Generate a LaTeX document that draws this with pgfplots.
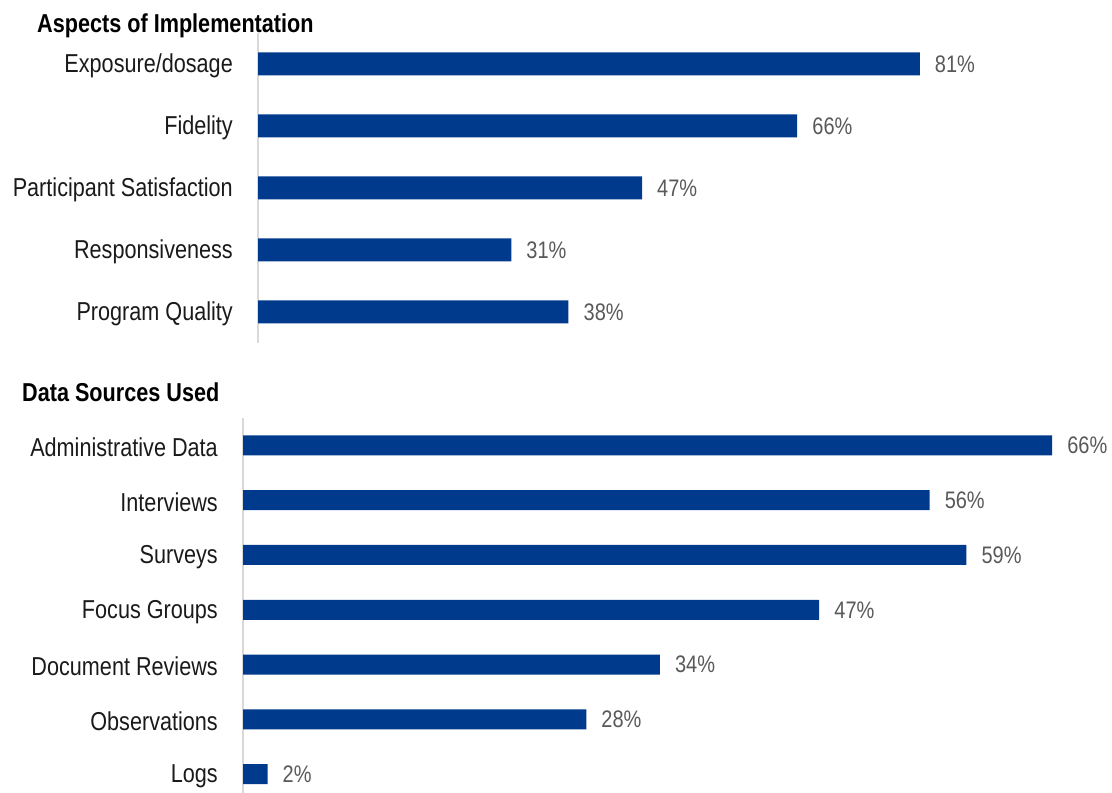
\documentclass[border=0pt]{standalone}
\usepackage{fontspec}
\setmainfont{Liberation Sans}[FakeStretch=0.835]
\usepackage{pgfplots}
\pgfplotsset{compat=1.18}
\definecolor{barblue}{HTML}{003A8C}
\definecolor{lblgrey}{HTML}{595959}
\definecolor{catblack}{HTML}{1A1A1A}
\definecolor{axgrey}{HTML}{D9D9D9}
\begin{document}
\begin{tikzpicture}[x=1bp,y=1bp]
\useasboundingbox (0,0) rectangle (1112,793);
\pgfplotsset{
  mybars/.style={
    xbar, scale only axis, clip=false,
    xmin=0, y dir=reverse,
    axis x line=none, axis y line=left,
    y axis line style={-, draw=axgrey, line width=2bp},
    ytick=data, major tick length=0pt, ytick style={draw=none},
    yticklabel style={font=\fontsize{26}{30}\selectfont, text=catblack, inner sep=0pt, anchor=east, xshift=-25bp, yshift=-2bp},
    point meta=x,
    nodes near coords={\pgfmathprintnumber[assume math mode=true]{\pgfplotspointmeta}\%},
    every node near coord/.append style={font=\fontsize{24}{28}\selectfont, text=lblgrey, inner sep=0pt, anchor=west, xshift=15bp},
  }
}
\node[anchor=base west, inner sep=0pt, font=\bfseries\fontsize{26}{30}\selectfont] at (37,760) {Aspects of Implementation};
\node[anchor=base west, inner sep=0pt, font=\bfseries\fontsize{26}{30}\selectfont] at (22,391) {Data Sources Used};
\begin{axis}[mybars,
  at={(258bp,450bp)}, anchor=south west,
  width=817bp, height=310bp,
  xmax=100, ymin=-0.5, ymax=4.5, bar width=23bp,
  yticklabels={Exposure/dosage, Fidelity, Participant Satisfaction, Responsiveness, Program Quality}]
\addplot[fill=barblue, draw=none] coordinates {(81,0) (66,1) (47,2) (31,3) (38,4)};
\end{axis}
\begin{axis}[mybars,
  at={(243bp,0bp)}, anchor=south west,
  width=858.2bp, height=375bp,
  xmax=70, ymin=-0.5, ymax=6.343, bar width=20bp,
  yticklabels={Administrative Data, Interviews, Surveys, Focus Groups, Document Reviews, Observations, Logs}]
\addplot[fill=barblue, draw=none] coordinates {(66,0) (56,1) (59,2) (47,3) (34,4) (28,5) (2,6)};
\end{axis}
\end{tikzpicture}
\end{document}
